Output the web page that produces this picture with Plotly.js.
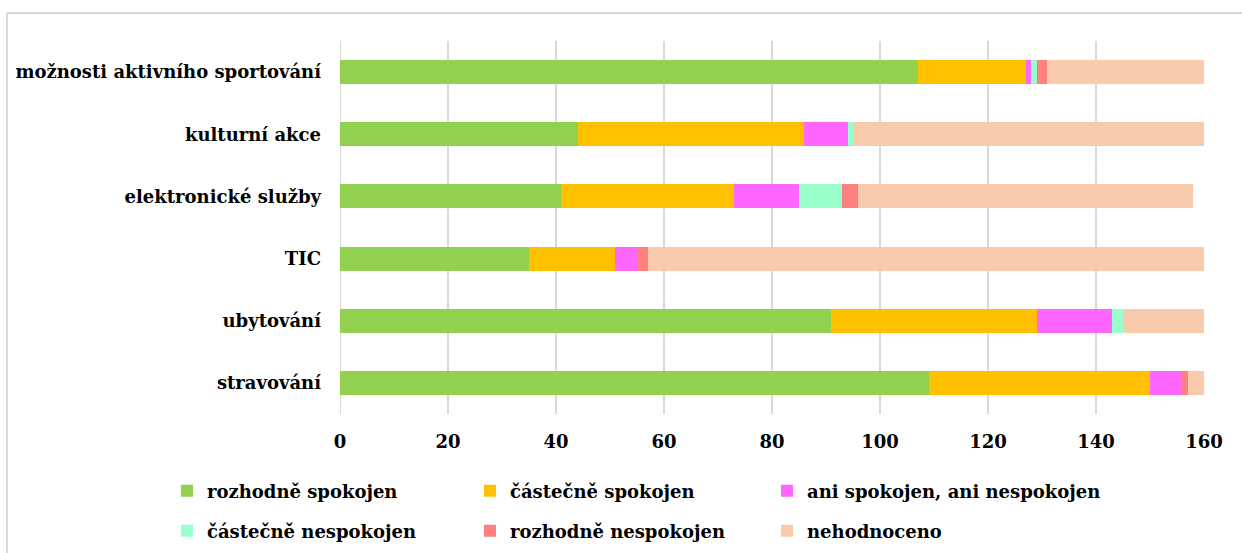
<!DOCTYPE html>
<html>
<head>
<meta charset="utf-8">
<script src="https://cdn.plot.ly/plotly-3.0.1.min.js"></script>
<style>
  html, body { margin: 0; padding: 0; background: #fff; }
  #plot { width: 1242px; height: 553px; }
</style>
</head>
<body>
<div id="plot"></div>
<script>
// categories bottom -> top
const categories = ['stravování', 'ubytování', 'TIC', 'elektronické služby', 'kulturní akce', 'možnosti aktivního sportování'];

const seriesNames = ['rozhodně spokojen', 'částečně spokojen', 'ani spokojen, ani nespokojen',
                     'částečně nespokojen', 'rozhodně nespokojen', 'nehodnoceno'];

const rozhodneSpokojen   = [109, 91, 35, 41, 44, 107];
const castecneSpokojen   = [41, 38, 16, 32, 42, 20];
const aniAni             = [6, 14, 4, 12, 8, 1];
const castecneNespokojen = [0, 2, 0, 8, 1, 1];
const rozhodneNespokojen = [1, 0, 2, 3, 0, 2];
const nehodnoceno        = [3, 15, 103, 62, 65, 29];

const xTicks = [0, 20, 40, 60, 80, 100, 120, 140, 160];

const colors = ['#92D050', '#FFC000', '#FF66FF', '#99FFCC', '#FF8080', '#F8CBAD'];
const values = [rozhodneSpokojen, castecneSpokojen, aniAni, castecneNespokojen, rozhodneNespokojen, nehodnoceno];

const font = { family: 'DejaVu Serif', size: 18, color: '#000', weight: 'bold' };

// one legend per entry, laid out 3 columns x 2 rows
const legendIds = ['legend', 'legend2', 'legend3', 'legend4', 'legend5', 'legend6'];

const traces = values.map((v, i) => ({
    type: 'bar',
    orientation: 'h',
    name: seriesNames[i],
    y: categories,
    x: v,
    marker: { color: colors[i], line: { width: 0 } },
    legend: legendIds[i],
    hoverinfo: 'name+x'
}));

// plot area in pixels: left 340, right 1204, top 41, bottom 414
const px = x => (x - 340) / 864;
const py = y => (414 - y) / 373;

const colX = [167, 470, 767];
const rowY = [491, 531];

const layout = {
    width: 1242,
    height: 553,
    margin: { l: 340, r: 38, t: 41, b: 139, autoexpand: false },
    paper_bgcolor: '#fff',
    plot_bgcolor: '#fff',
    barmode: 'stack',
    bargap: 0.614,
    font: font,
    showlegend: true,
    xaxis: {
        range: [0, 160],
        tickvals: xTicks,
        ticktext: xTicks.map(String),
        showgrid: true,
        gridcolor: '#D9D9D9',
        gridwidth: 2,
        zeroline: false,
        showline: false,
        ticks: '',
        ticklabelstandoff: 15,
        tickfont: font,
        fixedrange: true
    },
    yaxis: {
        type: 'category',
        showgrid: false,
        zeroline: false,
        showline: false,
        ticks: '',
        ticklabelstandoff: 18,
        tickfont: font,
        fixedrange: true
    },
    shapes: [
        // outer chart border (left and top edges visible)
        { type: 'line', xref: 'paper', yref: 'paper', x0: px(7), x1: px(7), y0: py(13), y1: py(560),
          line: { color: '#D9D9D9', width: 2 } },
        { type: 'line', xref: 'paper', yref: 'paper', x0: px(7), x1: px(1250), y0: py(13), y1: py(13),
          line: { color: '#D9D9D9', width: 2 } },
        // left grid line at 0
        { type: 'line', xref: 'x', yref: 'paper', x0: 0, x1: 0, y0: 0, y1: 1, layer: 'below',
          line: { color: '#D9D9D9', width: 2 } }
    ]
};

legendIds.forEach((id, i) => {
    layout[id] = {
        orientation: 'h',
        xanchor: 'left',
        yanchor: 'middle',
        x: px(colX[i % 3]),
        y: py(rowY[Math.floor(i / 3)]),
        font: font,
        bgcolor: 'rgba(0,0,0,0)',
        itemclick: false
    };
});

Plotly.newPlot('plot', traces, layout, { displayModeBar: false, staticPlot: true });
</script>
</body>
</html>
